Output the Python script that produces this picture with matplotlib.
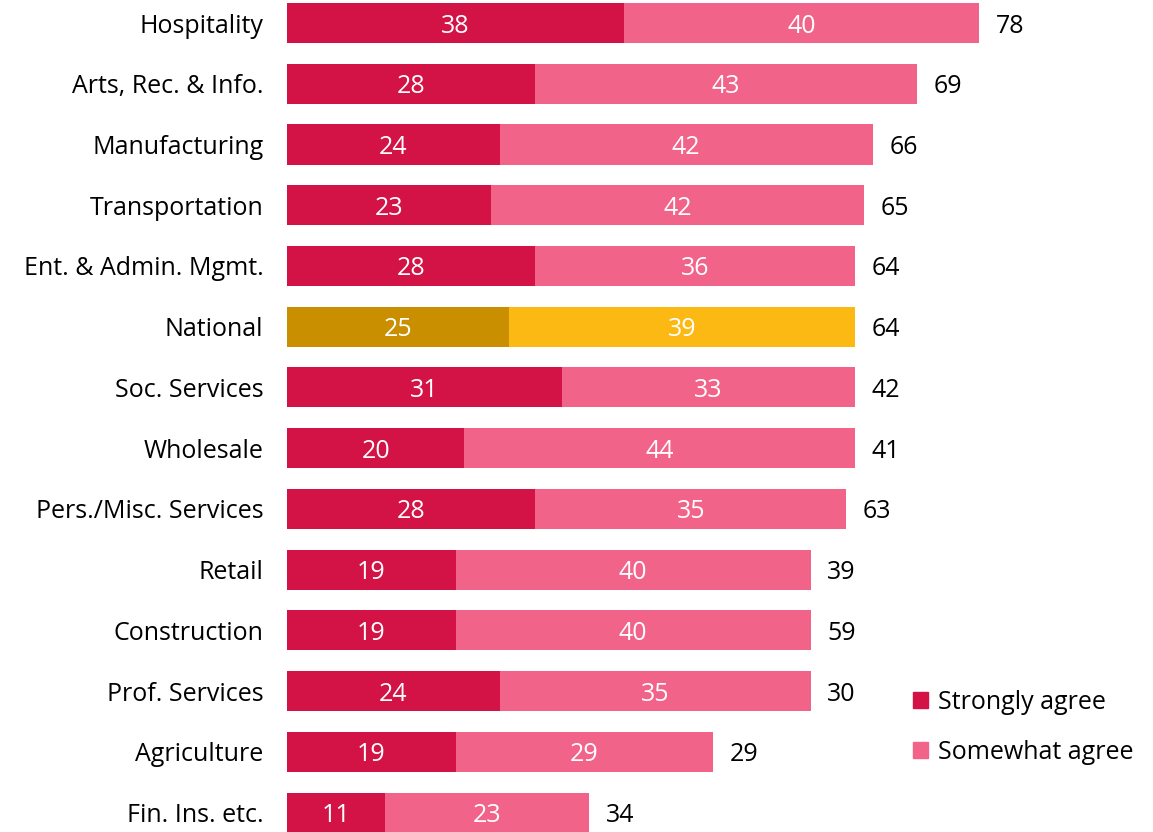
import numpy as np
from matplotlib import pyplot as plt
from matplotlib.patches import Patch

# Chart data
#------------------------------------------------------------------------------
sectors = ['Hospitality', 'Arts, Rec. & Info.', 'Manufacturing',
           'Transportation', 'Ent. & Admin. Mgmt.', 'National',
           'Soc. Services', 'Wholesale', 'Pers./Misc. Services', 'Retail',
           'Construction', 'Prof. Services', 'Agriculture', 'Fin. Ins. etc.']
strongly = [38, 28, 24, 23, 28, 25, 31, 20, 28, 19, 19, 24, 19, 11]
somewhat = [40, 43, 42, 42, 36, 39, 33, 44, 35, 40, 40, 35, 29, 23]
totals = [78, 69, 66, 65, 64, 64, 42, 41, 63, 39, 59, 30, 29, 34]
highlight = 'National'
#------------------------------------------------------------------------------

STRONG_C = '#D31245'
SOME_C = '#F2638A'
NAT_STRONG_C = '#C98F00'
NAT_SOME_C = '#FDB913'

plt.rcParams['font.family'] = ['Open Sans', 'DejaVu Sans']

fig = plt.figure(figsize=(11.53, 8.32), dpi=100)
ax = fig.add_axes([287 / 1153, 0, 1 - 287 / 1153, 1])

y = np.arange(len(sectors))
strongly = np.array(strongly)
somewhat = np.array(somewhat)

c1 = [NAT_STRONG_C if s == highlight else STRONG_C for s in sectors]
c2 = [NAT_SOME_C if s == highlight else SOME_C for s in sectors]

ax.barh(y, strongly, height=0.66, color=c1, label='Strongly agree')
ax.barh(y, somewhat, left=strongly, height=0.66, color=c2,
        label='Somewhat agree')

for i in range(len(sectors)):
    ax.text(strongly[i] / 2, y[i], str(strongly[i]), ha='center',
            va='center_baseline', color='white', fontsize=18)
    ax.text(strongly[i] + somewhat[i] / 2, y[i], str(somewhat[i]),
            ha='center', va='center_baseline', color='white', fontsize=18)
    ax.text(strongly[i] + somewhat[i] + 1.9, y[i], str(totals[i]),
            ha='left', va='center_baseline', color='black', fontsize=18)

ax.set_yticks(y)
ax.set_yticklabels(sectors, fontsize=18)
ax.tick_params(axis='y', length=0, pad=17)
ax.set_xticks([])
ax.set_xlim(0, 97.6)
ax.set_ylim(13.32, -0.379)
for sp in ax.spines.values():
    sp.set_visible(False)

handles = [Patch(color=STRONG_C, label='Strongly agree'),
           Patch(color=SOME_C, label='Somewhat agree')]
ax.legend(handles=handles, loc='center left', bbox_to_anchor=(0.697, 0.126),
          frameon=False, fontsize=18, handlelength=0.6, handleheight=0.6,
          handletextpad=0.4, labelspacing=1.0)

fig.savefig('out.png', dpi=100)
